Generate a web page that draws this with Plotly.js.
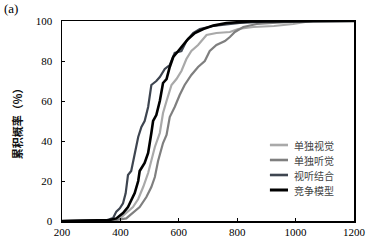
<!DOCTYPE html>
<html><head><meta charset="utf-8">
<script src="https://cdn.plot.ly/plotly-3.0.1.min.js"></script>
<style>html,body{margin:0;padding:0;background:#fff}#c{width:369px;height:245px}</style>
</head><body><div id="c"></div>
<script>
const names = ["单独视觉", "单独听觉", "视听结合", "竞争模型"];
const visX = [200, 375, 398, 420, 443, 461, 478, 495, 506, 518, 535, 546, 558, 575, 592, 609, 626, 643, 666, 695, 729, 775, 803, 855, 926, 992, 1038, 1060, 1200];
const visY = [0, 0.5, 1.3, 4, 7, 11, 17, 24, 31, 37, 44, 54, 60, 68, 71, 75, 81, 85, 88, 93, 94, 94.5, 96, 97, 97.5, 98.5, 99.7, 100, 100];
const audX = [200, 386, 420, 443, 466, 489, 506, 518, 529, 546, 558, 569, 586, 603, 620, 643, 666, 689, 706, 729, 758, 775, 792, 821, 867, 935, 1015, 1061, 1200];
const audY = [0, 0.5, 1.3, 4, 7, 12, 17, 22, 30, 39, 43, 52, 57, 63, 68, 73, 77, 80, 85, 88, 90, 92, 94.5, 97, 98.5, 99.2, 99.5, 100, 100];
const avX = [200, 352, 375, 386, 398, 409, 418, 426, 437, 449, 461, 472, 483, 495, 506, 523, 535, 552, 569, 586, 609, 626, 649, 672, 718, 763, 809, 901, 1200];
const avY = [0, 0.3, 1.5, 4.7, 6.3, 8.8, 13.8, 23, 25, 34, 42, 47, 50, 57, 68, 70, 72, 76, 78, 84, 85, 90, 94, 96, 97.5, 98.3, 99, 99.7, 100];
const raceX = [200, 363, 386, 409, 426, 438, 449, 461, 466, 483, 495, 506, 512, 523, 535, 546, 558, 569, 581, 598, 615, 632, 655, 684, 718, 763, 843, 1200];
const raceY = [0, 0.5, 1.3, 4, 7, 10.5, 14, 20, 25, 29, 34, 44, 50, 53, 60, 69, 71, 77, 82, 85, 88, 91, 94, 96, 97.7, 99, 99.8, 100];
const xTicks = [200, 400, 600, 800, 1000, 1200];
const yTicks = [0, 20, 40, 60, 80, 100];

const colors = ["#a9a9a9", "#7f7f7f", "#3e4550", "#000000"];
const widths = [2.2, 2.2, 2.2, 2.6];
const xs = [visX, audX, avX, raceX];
const ys = [visY, audY, avY, raceY];
const data = names.map((n, i) => ({
  type: "scatter", mode: "lines", name: n, x: xs[i], y: ys[i],
  line: {color: colors[i], width: widths[i]}, showlegend: false
}));
const serif = "Liberation Serif, Times New Roman, serif";
// manual legend (layout positions only)
const legX0 = 0.712, legX1 = 0.774, legTextX = 0.788, legTop = 0.38, legStep = 0.075;
const shapes = names.map((n, i) => ({
  type: "line", xref: "paper", yref: "paper", x0: legX0, x1: legX1,
  y0: legTop - i * legStep, y1: legTop - i * legStep, line: {color: colors[i], width: widths[i] + 0.4}
}));
const annotations = names.map((n, i) => ({
  text: n, xref: "paper", yref: "paper", x: legTextX, y: legTop - i * legStep, xanchor: "left", yanchor: "middle",
  showarrow: false, font: {family: "Noto Sans CJK SC", size: 10, color: "#444"}
}));
annotations.push({text: "(a)", xref: "paper", yref: "paper", x: -0.205, y: 1.06, xanchor: "left", yanchor: "middle",
  showarrow: false, font: {family: serif, size: 13, color: "#000"}});
const layout = {
  width: 369, height: 245,
  margin: {l: 62, r: 15, t: 21, b: 24, pad: 0},
  paper_bgcolor: "#fff", plot_bgcolor: "#fff",
  showlegend: false,
  xaxis: {range: [200, 1200], tickvals: xTicks, ticktext: xTicks.map(String), ticks: "inside", ticklen: 3,
    tickcolor: "#000", showgrid: false, zeroline: false, showline: true, linecolor: "#000", linewidth: 1.5,
    mirror: true, tickfont: {family: serif, size: 11, color: "#000"}},
  yaxis: {range: [0, 100], tickvals: yTicks, ticktext: yTicks.map(String), ticks: "inside", ticklen: 3,
    tickcolor: "#000", showgrid: false, zeroline: false, showline: true, linecolor: "#000", linewidth: 1.5,
    mirror: true, tickfont: {family: serif, size: 11, color: "#000"}, ticklabelstandoff: 6,
    title: {text: "累积概率（%）", font: {family: "Noto Sans CJK SC", size: 11, color: "#111", weight: 600}, standoff: 11}},
  shapes: shapes,
  annotations: annotations
};
Plotly.newPlot("c", data, layout, {staticPlot: true, displayModeBar: false});
</script></body></html>
